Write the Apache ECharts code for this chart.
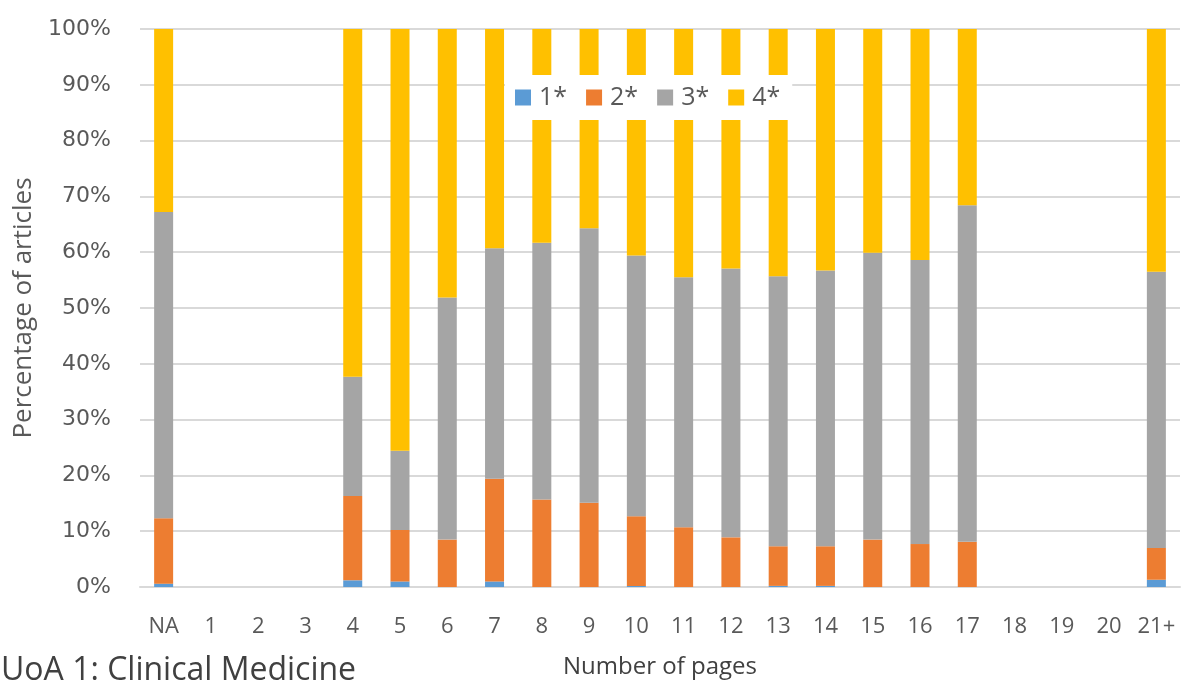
<!DOCTYPE html>
<html>
<head>
<meta charset="utf-8">
<script src="https://cdn.jsdelivr.net/npm/echarts@6/dist/echarts.min.js"></script>
<style>
html,body{margin:0;padding:0;background:#fff;overflow:hidden;}
#c{width:1185px;height:684px;}
</style>
</head>
<body>
<div id="c"></div>
<script>
const categories = ['NA','1','2','3','4','5','6','7','8','9','10','11','12','13','14','15','16','17','18','19','20','21+'];
const star1 = [0.6, null, null, null, 1.2, 1.0, 0, 1.0, 0, 0, 0.2, 0, 0, 0.2, 0.2, 0, 0, 0, null, null, null, 1.3];
const star2 = [11.7, null, null, null, 15.1, 9.2, 8.5, 18.4, 15.7, 15.1, 12.5, 10.7, 8.9, 7.1, 7.1, 8.5, 7.7, 8.1, null, null, null, 5.7];
const star3 = [54.9, null, null, null, 21.4, 14.2, 43.4, 41.3, 46.0, 49.2, 46.7, 44.8, 48.2, 48.4, 49.4, 51.4, 50.9, 60.3, null, null, null, 49.5];
const star4 = [32.8, null, null, null, 62.3, 75.6, 48.1, 39.3, 38.3, 35.7, 40.6, 44.5, 42.9, 44.3, 43.3, 40.1, 41.4, 31.6, null, null, null, 43.5];
const seriesNames = ['1*','2*','3*','4*'];
const yTicks = [0,10,20,30,40,50,60,70,80,90,100];

const colors = ['#5B9BD5','#ED7D31','#A5A5A5','#FFC000'];
const font = '"Open Sans", "Liberation Sans", sans-serif';
const chart = echarts.init(document.getElementById('c'), null, {renderer:'canvas'});
const dataSets = [star1, star2, star3, star4];
chart.setOption({
  animation: false,
  color: colors,
  title: {
    text: 'UoA 1: Clinical Medicine',
    left: 1, top: 655, padding: 0,
    textStyle: {fontFamily: font, fontSize: 32, fontWeight: 'normal', color: '#404040'}
  },
  legend: {
    data: seriesNames,
    left: 505, top: 75,
    padding: [10, 12, 10, 10],
    backgroundColor: '#ffffff',
    itemWidth: 16, itemHeight: 16,
    itemGap: 19,
    icon: 'rect',
    textStyle: {fontFamily: font, fontSize: 25, color: '#595959', padding: [0, 0, 0, 3]}
  },
  grid: {left: 140, right: 5, top: 29, bottom: 81, containLabel: false},
  xAxis: {
    type: 'category',
    data: categories,
    name: 'Number of pages',
    nameLocation: 'middle',
    nameGap: 68,
    nameTextStyle: {fontFamily: font, fontSize: 24, color: '#404040'},
    axisLine: {show: true, lineStyle: {color: '#d9d9d9', width: 2}},
    axisTick: {show: false},
    axisLabel: {interval: 0, fontFamily: font, fontSize: 22, color: '#595959', margin: 29}
  },
  yAxis: {
    type: 'value',
    min: 0, max: 100, interval: 10,
    name: 'Percentage of articles',
    nameLocation: 'middle',
    nameGap: 103,
    nameTextStyle: {fontFamily: font, fontSize: 26, color: '#595959'},
    axisLine: {show: false},
    axisTick: {show: false},
    splitLine: {lineStyle: {color: '#d9d9d9', width: 2}},
    axisLabel: {fontFamily: '"DejaVu Sans", sans-serif', fontSize: 22, color: '#595959', margin: 29,
      formatter: v => yTicks.includes(v) ? v + '%' : ''}
  },
  series: seriesNames.map((n, i) => ({
    name: n,
    type: 'bar',
    stack: 'total',
    barWidth: 19,
    data: dataSets[i],
    itemStyle: {color: colors[i]}
  }))
});
</script>
</body>
</html>
